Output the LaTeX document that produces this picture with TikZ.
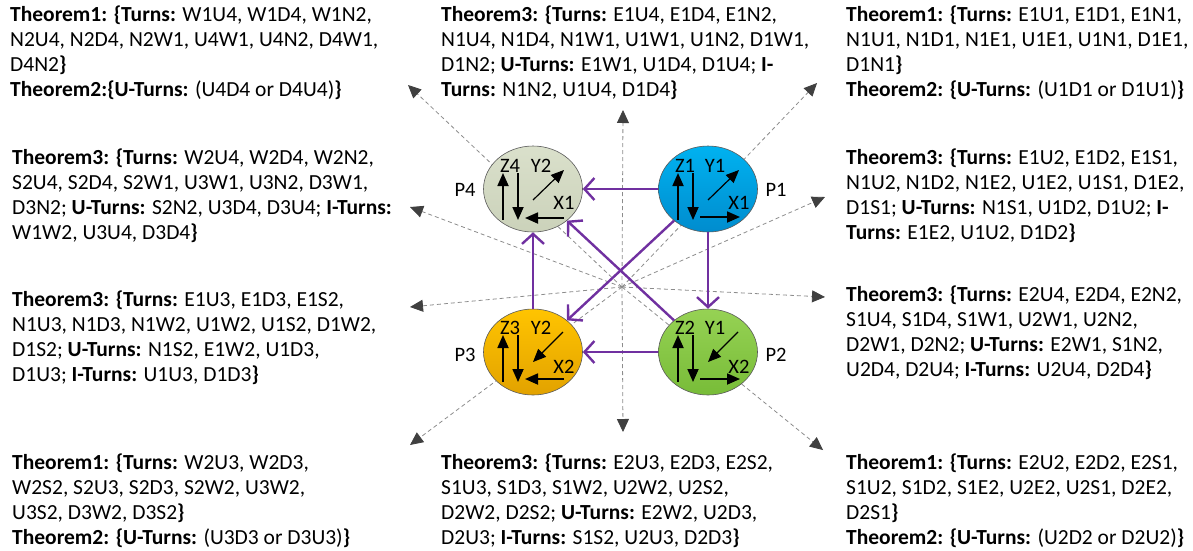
\documentclass[tikz,border=0pt]{standalone}
\usepackage{fontspec}
\setmainfont{Carlito}
\usetikzlibrary{arrows.meta,shapes.geometric}
\definecolor{purp}{RGB}{112,48,160}
\definecolor{dashgray}{RGB}{140,140,140}
\definecolor{tipgray}{RGB}{64,64,64}
\definecolor{pfour}{RGB}{218,224,203}
\definecolor{pfourb}{RGB}{203,210,186}
\definecolor{pone}{RGB}{0,178,240}
\definecolor{poneb}{RGB}{0,140,206}
\definecolor{pthree}{RGB}{255,196,0}
\definecolor{pthreeb}{RGB}{226,162,0}
\definecolor{ptwo}{RGB}{150,210,84}
\definecolor{ptwob}{RGB}{120,188,56}
\tikzset{
  txt/.style={anchor=north west, align=left, inner sep=0pt, font=\fontsize{21.5}{25}\selectfont},
  pnode/.style={ellipse, minimum width=99pt, minimum height=86pt, inner sep=0pt, draw=black!65, line width=0.6pt},
  plabel/.style={inner sep=0pt, font=\fontsize{20.5}{24}\selectfont},
  inlabel/.style={inner sep=0pt, font=\fontsize{20.5}{23}\selectfont},
  inarrow/.style={line width=1.8pt, -{Triangle[length=13pt,width=11pt]}},
  diagarrow/.style={line width=1.2pt, -{Triangle[length=13pt,width=11pt]}},
  link/.style={purp, line width=2.4pt, -{Straight Barb[length=10pt,width=22pt,line width=2.4pt]}},
  ray/.style={dashgray, line width=0.8pt, dash pattern=on 4pt off 3pt, -{Triangle[length=13pt,width=12pt,color=tipgray]}}
}
\begin{document}
\begin{tikzpicture}[x=1pt,y=-1pt]
\useasboundingbox (0,0) rectangle (1193,550);

% rays (behind)
\coordinate (C) at (622,287);
\coordinate (tUL) at (408,85);
\coordinate (tU) at (623,110);
\coordinate (tUR) at (817,83);
\coordinate (tLU) at (410,207);
\coordinate (tLD) at (410,307);
\coordinate (tRU) at (825,197);
\coordinate (tRD) at (825,297);
\coordinate (tBL) at (410,445);
\coordinate (tB) at (623,432);
\coordinate (tBR) at (823,450);
\foreach \t in {tUL,tU,tUR,tLU,tLD,tRU,tRD,tBL,tB,tBR}{\draw[ray] (C) -- (\t);}

% ellipses
\node[pnode, top color=pfour, bottom color=pfourb] (P4) at (533,189) {};
\node[pnode, top color=pone, bottom color=poneb] (P1) at (708,189) {};
\node[pnode, top color=pthree, bottom color=pthreeb] (P3) at (533,352) {};
\node[pnode, top color=ptwo, bottom color=ptwob] (P2) at (708,352) {};

\node[plabel] (L4) at (465,190) {P4};
\node[plabel] (L1) at (776,190) {P1};
\node[plabel] (L3) at (465,355) {P3};
\node[plabel] (L2) at (776,355) {P2};

% inner arrows P4
\begin{scope}[shift={(533,189)}]
  \coordinate (a4u1) at (-30,31); \coordinate (a4u2) at (-30,-16);
  \coordinate (a4d1) at (-15,-16); \coordinate (a4d2) at (-15,31);
  \coordinate (a4g1) at (0,11); \coordinate (a4g2) at (31,-19);
  \coordinate (a4h1) at (31,29); \coordinate (a4h2) at (-8,29);
  \draw[inarrow] (a4u1) -- (a4u2);
  \draw[inarrow] (a4d1) -- (a4d2);
  \draw[diagarrow] (a4g1) -- (a4g2);
  \draw[inarrow] (a4h1) -- (a4h2);
  \node[inlabel] (z4) at (-23,-23) {Z4};
  \node[inlabel] (y4) at (8,-23) {Y2};
  \node[inlabel] (x4) at (31,14) {X1};
\end{scope}
% inner arrows P1
\begin{scope}[shift={(708,189)}]
  \coordinate (a1u1) at (-30,31); \coordinate (a1u2) at (-30,-16);
  \coordinate (a1d1) at (-15,-16); \coordinate (a1d2) at (-15,31);
  \coordinate (a1g1) at (0,11); \coordinate (a1g2) at (31,-19);
  \coordinate (a1h1) at (-8,28); \coordinate (a1h2) at (32,28);
  \draw[inarrow] (a1u1) -- (a1u2);
  \draw[inarrow] (a1d1) -- (a1d2);
  \draw[diagarrow] (a1g1) -- (a1g2);
  \draw[inarrow] (a1h1) -- (a1h2);
  \node[inlabel] (z1) at (-23,-23) {Z1};
  \node[inlabel] (y1) at (7,-23) {Y1};
  \node[inlabel] (x1) at (31,14) {X1};
\end{scope}
% inner arrows P3
\begin{scope}[shift={(533,352)}]
  \coordinate (a3u1) at (-30,30); \coordinate (a3u2) at (-30,-17);
  \coordinate (a3d1) at (-15,-17); \coordinate (a3d2) at (-15,30);
  \coordinate (a3g1) at (30,-20); \coordinate (a3g2) at (0,10);
  \coordinate (a3h1) at (31,27); \coordinate (a3h2) at (-8,27);
  \draw[inarrow] (a3u1) -- (a3u2);
  \draw[inarrow] (a3d1) -- (a3d2);
  \draw[diagarrow] (a3g1) -- (a3g2);
  \draw[inarrow] (a3h1) -- (a3h2);
  \node[inlabel] (z3) at (-23,-24) {Z3};
  \node[inlabel] (y3) at (8,-24) {Y2};
  \node[inlabel] (x3) at (31,15) {X2};
\end{scope}
% inner arrows P2
\begin{scope}[shift={(708,352)}]
  \coordinate (a2u1) at (-30,30); \coordinate (a2u2) at (-30,-17);
  \coordinate (a2d1) at (-15,-17); \coordinate (a2d2) at (-15,30);
  \coordinate (a2g1) at (30,-20); \coordinate (a2g2) at (0,10);
  \coordinate (a2h1) at (-8,27); \coordinate (a2h2) at (32,27);
  \draw[inarrow] (a2u1) -- (a2u2);
  \draw[inarrow] (a2d1) -- (a2d2);
  \draw[diagarrow] (a2g1) -- (a2g2);
  \draw[inarrow] (a2h1) -- (a2h2);
  \node[inlabel] (z2) at (-23,-24) {Z2};
  \node[inlabel] (y2) at (7,-24) {Y1};
  \node[inlabel] (x2) at (31,15) {X2};
\end{scope}

% purple links
\draw[link] (P1) -- (P4);
\draw[link] (P1) -- (P2);
\draw[link] (P1) -- (P3);
\draw[link] (P2) -- (P3);
\draw[link] (P2) -- (P4);
\draw[link] (P3) -- (P4);

% text blocks
\node[txt] (TL1) at (10,6) {\textbf{Theorem1: \{Turns:} W1U4, W1D4, W1N2,\\
N2U4, N2D4, N2W1, U4W1, U4N2, D4W1,\\
D4N2\textbf{\}}\\
\textbf{Theorem2:\{U-Turns:} (U4D4 or D4U4)\textbf{\}}};

\node[txt] (TL2) at (12,149) {\textbf{Theorem3: \{Turns:} W2U4, W2D4, W2N2,\\
S2U4, S2D4, S2W1, U3W1, U3N2, D3W1,\\
D3N2; \textbf{U-Turns:} S2N2, U3D4, D3U4; \textbf{I-Turns:}\\
W1W2, U3U4, D3D4\textbf{\}}};

\node[txt] (ML) at (12,291) {\textbf{Theorem3: \{Turns:} E1U3, E1D3, E1S2,\\
N1U3, N1D3, N1W2, U1W2, U1S2, D1W2,\\
D1S2; \textbf{U-Turns:} N1S2, E1W2, U1D3,\\
D1U3; \textbf{I-Turns:} U1U3, D1D3\textbf{\}}};

\node[txt] (BL) at (12,454) {\textbf{Theorem1: \{Turns:} W2U3, W2D3,\\
W2S2, S2U3, S2D3, S2W2, U3W2,\\
U3S2, D3W2, D3S2\textbf{\}}\\
\textbf{Theorem2: \{U-Turns:} (U3D3 or D3U3)\textbf{\}}};

\node[txt] (TM) at (441,6) {\textbf{Theorem3: \{Turns:} E1U4, E1D4, E1N2,\\
N1U4, N1D4, N1W1, U1W1, U1N2, D1W1,\\
D1N2; \textbf{U-Turns:} E1W1, U1D4, D1U4; \textbf{I-}\\
\textbf{Turns:} N1N2, U1U4, D1D4\textbf{\}}};

\node[txt] (BM) at (441,454) {\textbf{Theorem3: \{Turns:} E2U3, E2D3, E2S2,\\
S1U3, S1D3, S1W2, U2W2, U2S2,\\
D2W2, D2S2; \textbf{U-Turns:} E2W2, U2D3,\\
D2U3; \textbf{I-Turns:} S1S2, U2U3, D2D3\textbf{\}}};

\node[txt] (TR1) at (846,6) {\textbf{Theorem1: \{Turns:} E1U1, E1D1, E1N1,\\
N1U1, N1D1, N1E1, U1E1, U1N1, D1E1,\\
D1N1\textbf{\}}\\
\textbf{Theorem2: \{U-Turns:} (U1D1 or D1U1)\textbf{\}}};

\node[txt] (TR2) at (846,149) {\textbf{Theorem3: \{Turns:} E1U2, E1D2, E1S1,\\
N1U2, N1D2, N1E2, U1E2, U1S1, D1E2,\\
D1S1; \textbf{U-Turns:} N1S1, U1D2, D1U2; \textbf{I-}\\
\textbf{Turns:} E1E2, U1U2, D1D2\textbf{\}}};

\node[txt] (MR) at (846,286) {\textbf{Theorem3: \{Turns:} E2U4, E2D4, E2N2,\\
S1U4, S1D4, S1W1, U2W1, U2N2,\\
D2W1, D2N2; \textbf{U-Turns:} E2W1, S1N2,\\
U2D4, D2U4; \textbf{I-Turns:} U2U4, D2D4\textbf{\}}};

\node[txt] (BR) at (846,454) {\textbf{Theorem1: \{Turns:} E2U2, E2D2, E2S1,\\
S1U2, S1D2, S1E2, U2E2, U2S1, D2E2,\\
D2S1\textbf{\}}\\
\textbf{Theorem2: \{U-Turns:} (U2D2 or D2U2)\textbf{\}}};
\end{tikzpicture}
\end{document}
